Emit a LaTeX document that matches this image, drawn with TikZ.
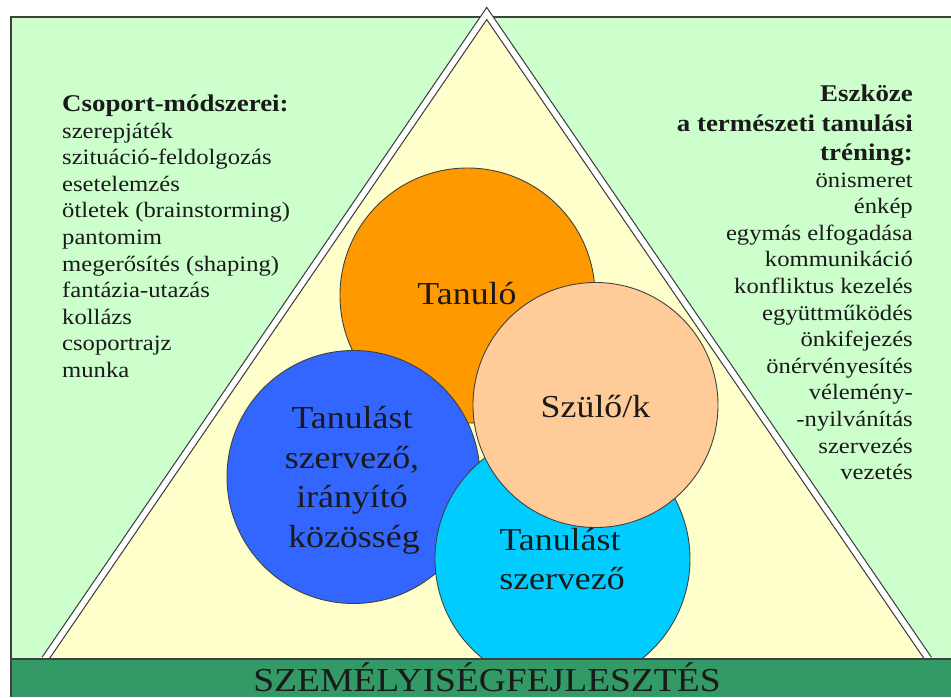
\documentclass[tikz,border=0pt]{standalone}
\usepackage{fontspec}
\setmainfont{Liberation Serif}
\newfontfamily\wideserif[FakeStretch=1.12]{Liberation Serif}
\definecolor{panelgreen}{HTML}{CCFFCC}
\definecolor{triyellow}{HTML}{FFFFCC}
\definecolor{bargreen}{HTML}{339966}
\definecolor{corange}{HTML}{FF9900}
\definecolor{cpeach}{HTML}{FFCC99}
\definecolor{cblue}{HTML}{3366FF}
\definecolor{ccyan}{HTML}{00CCFF}
\definecolor{edgegray}{HTML}{404040}
\definecolor{txt}{HTML}{1A1A1A}
\begin{document}
\begin{tikzpicture}[x=1pt,y=-1pt,
  ball/.style={circle, draw=edgegray, line width=0.9pt, inner sep=0pt},
  listtxt/.style={inner sep=0pt, text=txt, font=\wideserif\fontsize{22}{26}\selectfont},
  headtxt/.style={inner sep=0pt, text=txt, font=\wideserif\bfseries\fontsize{24}{28}\selectfont},
  balltxt/.style={inner sep=0pt, anchor=base, text=txt, font=\wideserif\fontsize{32}{38}\selectfont},
  bartxt/.style={inner sep=0pt, anchor=base, text=txt, font=\wideserif\fontsize{33.5}{38}\selectfont},
]
\useasboundingbox (0,0) rectangle (951,697);
\fill[white] (0,0) rectangle (951,697);
% panel
\fill[panelgreen] (11,17) rectangle (951,659);
\draw[edgegray, line width=1.5pt] (11,697) -- (11,17) -- (951,17);
% triangle
\coordinate (tl) at (45,659);
\coordinate (ta) at (486.75,13.5);
\coordinate (tr) at (928.5,659);
\fill[triyellow] (tl) -- (ta) -- (tr) -- cycle;
\draw[edgegray, line width=1.2pt, double=white, double distance=5.5pt] (tl) -- (ta) -- (tr);
% circles
\node[ball, fill=corange, minimum size=255] (tanulo) at (467.5,295.5) {};
\node[ball, fill=cblue, minimum size=253] (kozosseg) at (353.5,477) {};
\node[ball, fill=ccyan, minimum size=255] (szervezo) at (562.5,559) {};
\node[ball, fill=cpeach, minimum size=245] (szulo) at (595.5,405) {};
% circle texts
\node[balltxt] (t1) at (467,304) {Tanuló};
\node[balltxt] (t2) at (595.5,417) {Szülő/k};
\node[balltxt] (k1) at (352,428) {Tanulást};
\node[balltxt] (k2) at (352,468) {szervező,};
\node[balltxt] (k3) at (352,507) {irányító};
\node[balltxt] (k4) at (354,547) {közösség};
\node[balltxt] (s1) at (560,550) {Tanulást};
\node[balltxt] (s2) at (562,589) {szervező};
% left block
\node[headtxt, anchor=base west] (lh) at (62,111) {Csoport-módszerei:};
\foreach \t [count=\i] in {szerepjáték, szituáció-feldolgozás, esetelemzés, ötletek (brainstorming), pantomim, megerősítés (shaping), fantázia-utazás, kollázs, csoportrajz, munka}
  \node[listtxt, anchor=base west] (L\i) at (62,{138+26.6*(\i-1)}) {\t};
% right block
\node[headtxt, anchor=base east] (rh1) at (913,101) {Eszköze};
\node[headtxt, anchor=base east] (rh2) at (913,131) {a természeti tanulási};
\node[headtxt, anchor=base east] (rh3) at (913,160) {tréning:};
\foreach \t [count=\i] in {önismeret, énkép, egymás elfogadása, kommunikáció, konfliktus kezelés, együttműködés, önkifejezés, önérvényesítés, vélemény-, -nyilvánítás, szervezés, vezetés}
  \node[listtxt, anchor=base east] (R\i) at (913,{187+26.6*(\i-1)}) {\t};
% bottom bar
\fill[bargreen] (11,659) rectangle (951,697);
\draw[edgegray, line width=1.2pt] (11,697) -- (11,659) -- (951,659);
\node[bartxt] (bar) at (487,691.5) {SZEMÉLYISÉGFEJLESZTÉS};
\end{tikzpicture}
\end{document}
